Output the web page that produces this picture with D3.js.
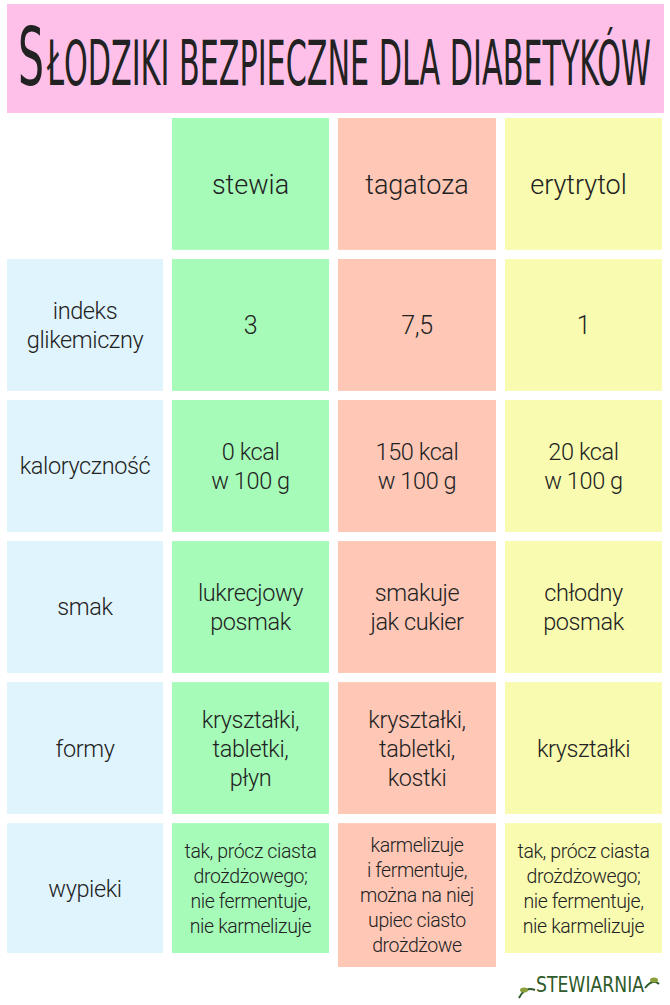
<!DOCTYPE html><html><head><meta charset="utf-8">
<script src="https://cdn.jsdelivr.net/npm/d3@7"></script>
<style>body{margin:0;background:#fff}</style></head><body>
<script>
const title = "Słodziki bezpieczne dla diabetyków";
const products = ["stewia","tagatoza","erytrytol"];
const rowLabels = [["indeks","glikemiczny"],["kaloryczność"],["smak"],["formy"],["wypieki"]];
const stewia = [["3"],["0 kcal","w 100 g"],["lukrecjowy","posmak"],["kryształki,","tabletki,","płyn"],["tak, prócz ciasta","drożdżowego;","nie fermentuje,","nie karmelizuje"]];
const tagatoza = [["7,5"],["150 kcal","w 100 g"],["smakuje","jak cukier"],["kryształki,","tabletki,","kostki"],["karmelizuje","i fermentuje,","można na niej","upiec ciasto","drożdżowe"]];
const erytrytol = [["1"],["20 kcal","w 100 g"],["chłodny","posmak"],["kryształki"],["tak, prócz ciasta","drożdżowego;","nie fermentuje,","nie karmelizuje"]];
const colColors = ["#dff4fd","#a6fbb9","#fec7b6","#f8fbb0"];
const cols = [rowLabels, stewia, tagatoza, erytrytol];

const svg = d3.select("body").append("svg").attr("width",670).attr("height",1005);
svg.append("rect").attr("x",7).attr("y",4).attr("width",657).attr("height",109).attr("fill","#fec0e8");
const tf = "DejaVu Sans Condensed, DejaVu Sans";
svg.append("text").attr("x",18).attr("y",85).attr("font-family",tf).attr("font-weight",200).attr("fill","#222")
  .attr("font-size",80).attr("textLength",26).attr("lengthAdjust","spacingAndGlyphs").text(title[0]);
svg.append("text").attr("x",47).attr("y",85).attr("font-family",tf).attr("font-weight",200).attr("fill","#222")
  .attr("font-size",62).attr("textLength",604).attr("lengthAdjust","spacingAndGlyphs").text(title.slice(1).toUpperCase());

const x = d3.scaleOrdinal().domain([0,1,2,3]).range([7,172,338,505]);
const wids = [156,157,158,157];
const y = d3.scaleBand().domain([0,1,2,3,4,5]).range([118,955]).paddingInner(0.065).paddingOuter(0);
const fs = "Roboto, sans-serif";

for (let c=0;c<4;c++){
  const w = wids[c];
  if (c>0){
    svg.append("rect").attr("x",x(c)).attr("y",y(0)).attr("width",w).attr("height",y.bandwidth()).attr("fill",colColors[c]);
    svg.append("text").attr("x",x(c)+w/2+(c===3?-5:0)).attr("y",y(0)+y.bandwidth()/2+10)
      .attr("text-anchor","middle").attr("font-family",fs).attr("font-weight",300).attr("font-size",27).attr("fill","#222").text(products[c-1]);
  }
  for (let r=0;r<5;r++){
    const lines = cols[c][r];
    const h = (r===4 && c===2) ? y.bandwidth()+12 : (r===4 ? y.bandwidth()-2 : y.bandwidth());
    svg.append("rect").attr("x",x(c)).attr("y",y(r+1)).attr("width",w).attr("height",h).attr("fill",colColors[c]);
    const size = (r===4 && c>0) ? 19.5 : (r===0&&c>0 ? 25 : 23.5);
    const lh = (r===4 && c>0) ? 25 : 29;
    const cy = y(r+1)+h/2 - (lines.length-1)*lh/2 + size*0.36;
    const tx = svg.append("text").attr("text-anchor","middle").attr("font-family",fs).attr("font-weight",300).attr("font-size",size).attr("fill","#222").attr("letter-spacing",-0.4);
    lines.forEach((l,i)=>tx.append("tspan").attr("x",x(c)+w/2).attr("y",cy+i*lh).text(l));
  }
}
const lg = svg.append("g");
lg.append("text").attr("x",590).attr("y",992).attr("text-anchor","middle").attr("font-family",tf)
  .attr("font-weight",300).attr("font-size",21).attr("fill","#2f5a2a").attr("textLength",108).attr("lengthAdjust","spacingAndGlyphs").text("STEWIARNIA");
lg.append("path").attr("d","M519,998 q6,-12 16,-8").attr("stroke","#2f5a2a").attr("fill","none").attr("stroke-width",2);
lg.append("ellipse").attr("cx",524).attr("cy",990).attr("rx",4).attr("ry",2.5).attr("fill","#8aa03a");
lg.append("path").attr("d","M645,988 q8,-10 14,-4").attr("stroke","#2f5a2a").attr("fill","none").attr("stroke-width",2);
lg.append("ellipse").attr("cx",654).attr("cy",980).attr("rx",4).attr("ry",2.5).attr("fill","#8aa03a");
</script></body></html>
